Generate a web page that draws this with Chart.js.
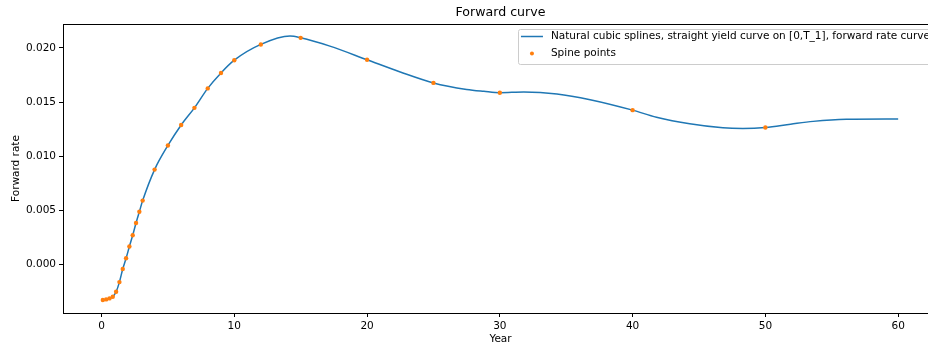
<!DOCTYPE html>
<html><head><meta charset="utf-8">
<script src="https://cdn.jsdelivr.net/npm/chart.js@4.4.0/dist/chart.umd.min.js"></script>
<style>
html,body{margin:0;padding:0;background:#fff;overflow:hidden}
#wrap{position:relative;width:1000px;height:347px}
</style></head><body>
<div id="wrap"><canvas id="fwd"></canvas></div>
<script>
/* ===== data ===== */
// spline curve, sampled (year, forward rate)
const curveYears = [0.1,0.35,0.6,0.85,1.1,1.35,1.6,1.85,2.1,2.35,2.6,2.85,3.1,4,5,6,7,8,9,10,12,14.2,15,17.2,20,22.5,25,27.5,28.8,30,31.8,34.3,36.8,40,41.8,44.3,46.8,48.3,50,51.9,53.6,56.1,60];
const curveRates = [-0.00332,-0.00326,-0.00317,-0.00301,-0.00255,-0.00166,-0.00045,0.00054,0.00163,0.00268,0.00381,0.00485,0.00588,0.00875,0.01098,0.01288,0.01446,0.01626,0.01769,0.01887,0.02033,0.0211,0.02094,0.02017,0.01891,0.01778,0.01677,0.01617,0.01599,0.01586,0.01593,0.01575,0.01522,0.01425,0.01359,0.01298,0.01261,0.01255,0.01264,0.01295,0.01321,0.0134,0.01343];
// spine points
const spineYears = [0.1,0.35,0.6,0.85,1.1,1.35,1.6,1.85,2.1,2.35,2.6,2.85,3.1,4,5,6,7,8,9,10,12,15,20,25,30,40,50];
const spineRates = [-0.00332,-0.00326,-0.00317,-0.00301,-0.00255,-0.00166,-0.00045,0.00054,0.00163,0.00268,0.00381,0.00485,0.00588,0.00875,0.01098,0.01288,0.01446,0.01626,0.01769,0.01887,0.02033,0.02094,0.01891,0.01677,0.01586,0.01425,0.01264];
const xTicks = [0,10,20,30,40,50,60];
const yTicks = [0,0.005,0.010,0.015,0.020];
const chartTitle = 'Forward curve';

const FONT = 'DejaVu Sans';
const BLUE = '#1f77b4', ORANGE = '#ff7f0e';

// title centred over the axes + box around plot area
const framePlugin = {
  id:'frame',
  afterDraw(chart){
    const {ctx, chartArea:a} = chart;
    ctx.save();
    ctx.strokeStyle = '#000'; ctx.lineWidth = 1;
    ctx.strokeRect(Math.round(a.left)+0.5, Math.round(a.top)+0.5, Math.round(a.right-a.left), Math.round(a.bottom-a.top));
    ctx.fillStyle = '#000';
    ctx.font = '12.6px "'+FONT+'"';
    ctx.textAlign = 'center'; ctx.textBaseline = 'middle';
    ctx.fillText(chartTitle, (a.left+a.right)/2, a.top - 11);
    ctx.restore();
  }
};

// matplotlib style legend, upper right inside axes
const legendPlugin = {
  id:'mplLegend',
  afterDraw(chart){
    const {ctx, chartArea:a} = chart;
    const ds = chart.data.datasets;
    ctx.save();
    ctx.font = '10.5px "'+FONT+'"';
    const textW = Math.max(...ds.map(d=>ctx.measureText(d.label).width));
    const right = a.right - 5, top = a.top + 5;
    const w = textW + 36, h = 35;
    const left = right - w;
    ctx.fillStyle = 'rgba(255,255,255,0.8)';
    ctx.strokeStyle = '#cccccc'; ctx.lineWidth = 1;
    ctx.beginPath();
    ctx.roundRect(Math.round(left)+0.5, Math.round(top)+0.5, w, h, 2);
    ctx.fill(); ctx.stroke();
    ds.forEach((d,i)=>{
      const cy = top + 7.5 + i*17;
      if(d.showLine){
        ctx.strokeStyle = d.borderColor; ctx.lineWidth = 1.5;
        ctx.beginPath(); ctx.moveTo(left+3, cy); ctx.lineTo(left+25, cy); ctx.stroke();
      } else {
        ctx.fillStyle = d.pointBackgroundColor;
        ctx.beginPath(); ctx.arc(left+14, cy, 2, 0, Math.PI*2); ctx.fill();
      }
      ctx.fillStyle = '#000'; ctx.textBaseline = 'middle'; ctx.textAlign = 'left';
      ctx.fillText(d.label, left+33, cy);
    });
    ctx.restore();
  }
};

new Chart(document.getElementById('fwd'), {
  type:'scatter',
  data:{ datasets:[
    {label:'Natural cubic splines, straight yield curve on [0,T_1], forward rate curve',
      data:curveYears.map((x,i)=>({x, y:curveRates[i]})),
      showLine:true, borderColor:BLUE, borderWidth:1.5, pointRadius:0, cubicInterpolationMode:'monotone', order:2},
    {label:'Spine points',
      data:spineYears.map((x,i)=>({x, y:spineRates[i]})),
      showLine:false, pointBackgroundColor:ORANGE, backgroundColor:ORANGE, borderWidth:0, pointRadius:2.2, order:1}
  ]},
  options:{
    responsive:true, maintainAspectRatio:false, animation:false, devicePixelRatio:1,
    layout:{padding:{left:0, right:62, top:24, bottom:0}},
    plugins:{ legend:{display:false}, tooltip:{enabled:false}, title:{display:false} },
    scales:{
      x:{type:'linear', min:-2.9, max:63,
        afterBuildTicks: s=>{ s.ticks = xTicks.map(v=>({value:v})); },
        afterFit: s=>{ s.height = 34; },
        grid:{drawOnChartArea:false, drawTicks:true, tickLength:4, color:'#000'},
        border:{display:false},
        ticks:{color:'#000', padding:3, maxRotation:0, font:{family:FONT, size:10.5}, callback:v=>String(v)},
        title:{display:true, text:'Year', color:'#000', font:{family:FONT, size:10.5}, padding:{top:0, bottom:1}}
      },
      y:{type:'linear', min:-0.00452, max:0.02222,
        afterBuildTicks: s=>{ s.ticks = yTicks.map(v=>({value:v})); },
        afterFit: s=>{ s.width = 63; },
        grid:{drawOnChartArea:false, drawTicks:true, tickLength:4, color:'#000'},
        border:{display:false},
        ticks:{color:'#000', padding:3, font:{family:FONT, size:10.5}, callback:v=>v.toFixed(3)},
        title:{display:true, text:'Forward rate', color:'#000', font:{family:FONT, size:10.5}, padding:{top:10, bottom:0}}
      }
    }
  },
  plugins:[framePlugin, legendPlugin]
});
</script>
</body></html>
